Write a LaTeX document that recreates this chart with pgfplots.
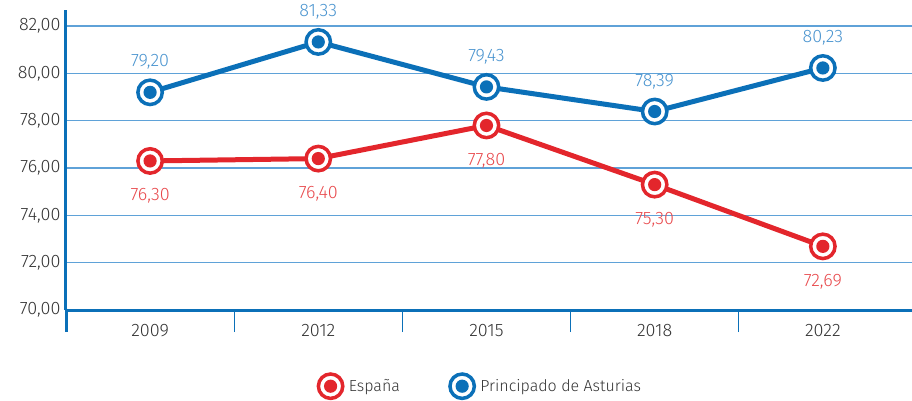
\documentclass[border=0pt]{standalone}
\usepackage{fontspec}
\setmainfont{Fira Sans}[UprightFont={* Light}]
\usepackage{pgfplots}
\pgfplotsset{compat=1.18}
\definecolor{ablue}{HTML}{0B70B8}
\definecolor{ared}{HTML}{E3262C}
\definecolor{lblue}{HTML}{4A94CF}
\definecolor{lred}{HTML}{E8484B}
\definecolor{gridb}{HTML}{5FA2D8}
\definecolor{txt}{HTML}{333333}
\pgfdeclareplotmark{ringR}{%
  \pgfsetlinewidth{3.5pt}\pgfsetstrokecolor{ared}\pgfsetfillcolor{white}%
  \pgfpathcircle{\pgfpointorigin}{12.2pt}\pgfusepath{fill,stroke}%
  \pgfsetfillcolor{ared}%
  \pgfpathcircle{\pgfpointorigin}{6.6pt}\pgfusepath{fill}}
\pgfdeclareplotmark{ringB}{%
  \pgfsetlinewidth{3.5pt}\pgfsetstrokecolor{ablue}\pgfsetfillcolor{white}%
  \pgfpathcircle{\pgfpointorigin}{12.2pt}\pgfusepath{fill,stroke}%
  \pgfsetfillcolor{ablue}%
  \pgfpathcircle{\pgfpointorigin}{6.6pt}\pgfusepath{fill}}
\begin{document}
\begin{tikzpicture}
\useasboundingbox (0,0) rectangle (912pt,400pt);
\begin{axis}[
  at={(66pt,90pt)}, anchor=south west,
  scale only axis, width=846pt, height=300pt,
  xmin=-0.5, xmax=4.53, ymin=70, ymax=82.68,
  clip=false,
  axis x line*=bottom, axis y line*=left,
  axis line style={ablue, line width=3pt},
  xtick={0,...,4}, xticklabels={2009,2012,2015,2018,2022},
  ytick={70,72,...,82},
  major tick length=0pt,
  extra x ticks={0.5,1.5,2.5,3.5}, extra x tick labels={},
  extra x tick style={major tick length=22pt, tick align=outside, tick style={ablue, line width=1.2pt}},
  ymajorgrids, grid style={gridb, line width=1.3pt},
  /pgf/number format/assume math mode=true,
  tick label style={font=\fontsize{18}{20}\selectfont, color=txt},
  yticklabel style={/pgf/number format/fixed, /pgf/number format/fixed zerofill, /pgf/number format/precision=2, /pgf/number format/use comma, xshift=-2pt},
  xticklabel style={yshift=-11pt},
  legend columns=2,
  legend style={at={(0.489,-0.254)}, anchor=center, draw=none, fill=none, font=\fontsize{16}{18}\selectfont, text=txt, /tikz/every even column/.append style={column sep=46pt}},
  legend cell align=left,
  legend image code/.code={\path (0pt,0pt) (30pt,0pt); \draw[#1] plot coordinates {(14pt,0pt)};},
]
\addplot[ared, line width=5pt, mark=ringR, forget plot,
  nodes near coords={\pgfmathprintnumber[fixed,fixed zerofill,precision=2,use comma]{\pgfplotspointmeta}},
  every node near coord/.style={anchor=north, yshift=-26pt, inner sep=0pt, color=lred, font=\fontsize{18}{20}\selectfont}]
  coordinates {(0,76.30)(1,76.40)(2,77.80)(3,75.30)(4,72.69)};
\addplot[ablue, line width=5pt, mark=ringB, forget plot,
  nodes near coords={\pgfmathprintnumber[fixed,fixed zerofill,precision=2,use comma]{\pgfplotspointmeta}},
  every node near coord/.style={anchor=south, yshift=21pt, inner sep=0pt, color=lblue, font=\fontsize{18}{20}\selectfont}]
  coordinates {(0,79.20)(1,81.33)(2,79.43)(3,78.39)(4,80.23)};
\addlegendimage{only marks, mark=ringR}
\addlegendentry{España}
\addlegendimage{only marks, mark=ringB}
\addlegendentry{Principado de Asturias}
\end{axis}
\draw[ablue, line width=3pt] (66pt,91.5pt) -- (66pt,68pt);
\end{tikzpicture}
\end{document}
